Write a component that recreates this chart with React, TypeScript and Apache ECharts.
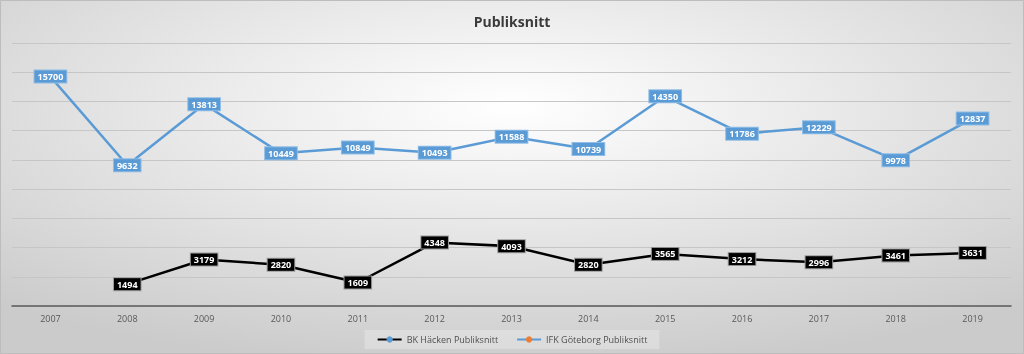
import React, { useEffect, useRef } from "react";
import * as echarts from "echarts";

const years = ["2007", "2008", "2009", "2010", "2011", "2012", "2013", "2014", "2015", "2016", "2017", "2018", "2019"];
const hackenName = "BK Häcken Publiksnitt";
const goteborgName = "IFK Göteborg Publiksnitt";
const hacken: (number | null)[] = [null, 1494, 3179, 2820, 1609, 4348, 4093, 2820, 3565, 3212, 2996, 3461, 3631];
const goteborg: number[] = [15700, 9632, 13813, 10449, 10849, 10493, 11588, 10739, 14350, 11786, 12229, 9978, 12837];

export default function App() {
  const ref = useRef<HTMLDivElement>(null);
  useEffect(() => {
    if (!ref.current) return;
    const chart = echarts.init(ref.current, null, { renderer: "svg" });
    const font = "'Open Sans', 'Liberation Sans', sans-serif";
    chart.setOption({
      animation: false,
      backgroundColor: new echarts.graphic.RadialGradient(0.5, 0.3, 0.75, [
        { offset: 0, color: "#ffffff" },
        { offset: 1, color: "#cbcbcb" },
      ]),
      title: {
        text: "Publiksnitt",
        left: "center",
        top: 9,
        textStyle: { fontFamily: font, fontSize: 14, fontWeight: "bold", color: "#3a3a3a" },
      },
      graphic: [
        {
          type: "rect",
          shape: { x: 0.5, y: 0.5, width: 1023, height: 353 },
          style: { fill: "none", stroke: "#bdbdbd", lineWidth: 1 },
          silent: true,
        },
      ],
      legend: {
        bottom: 5,
        left: "center",
        itemWidth: 24,
        itemHeight: 8,
        itemGap: 18,
        padding: [5, 12],
        backgroundColor: "rgba(255,255,255,0.25)",
        textStyle: { fontFamily: font, fontSize: 9, color: "#505050" },
        data: [hackenName, goteborgName],
      },
      grid: { left: 12, right: 13, top: 43, bottom: 48, containLabel: false },
      xAxis: {
        type: "category",
        data: years,
        boundaryGap: true,
        axisLine: { lineStyle: { color: "#595959", width: 1.5 } },
        axisTick: { show: false },
        axisLabel: { fontFamily: font, fontSize: 9, color: "#595959", margin: 8 },
      },
      yAxis: {
        type: "value",
        min: 0,
        max: 18000,
        interval: 2000,
        axisLabel: { show: false },
        axisLine: { show: false },
        axisTick: { show: false },
        splitLine: { lineStyle: { color: "#c6c6c6", width: 1.2 } },
      },
      series: [
        {
          name: hackenName,
          type: "line",
          data: hacken,
          symbol: "circle",
          symbolSize: 9,
          lineStyle: { color: "#000000", width: 2.5 },
          itemStyle: { color: "#5b9bd5" },
          label: {
            show: true,
            position: "inside",
            fontFamily: font,
            fontSize: 9,
            fontWeight: "bold",
            color: "#ffffff",
            backgroundColor: "#000000",
            borderColor: "#9a9a9a",
            borderWidth: 1,
            padding: [2, 3, 1, 3],
          },
        },
        {
          name: goteborgName,
          type: "line",
          data: goteborg,
          symbol: "circle",
          symbolSize: 9,
          lineStyle: { color: "#5b9bd5", width: 2.5 },
          itemStyle: { color: "#ed7d31" },
          label: {
            show: true,
            position: "inside",
            fontFamily: font,
            fontSize: 9,
            fontWeight: "bold",
            color: "#ffffff",
            backgroundColor: "#5b9bd5",
            borderColor: "#8fbde6",
            borderWidth: 1,
            padding: [2, 3, 1, 3],
          },
        },
      ],
    });
    return () => chart.dispose();
  }, []);
  return <div ref={ref} style={{ position: "fixed", left: 0, top: 0, width: 1024, height: 354 }} />;
}
